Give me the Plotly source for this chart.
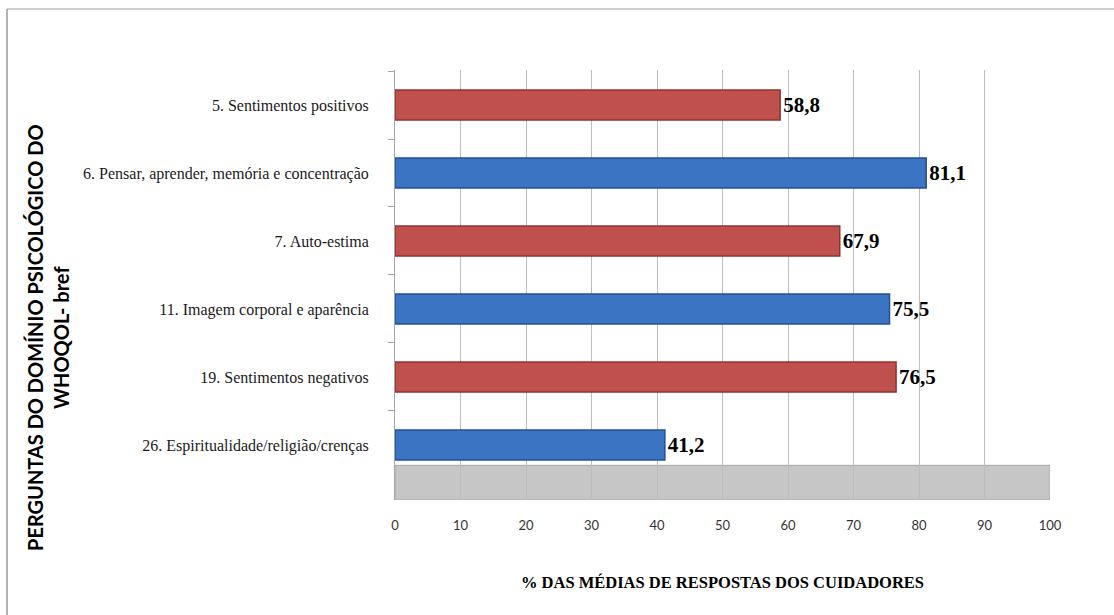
import plotly.graph_objects as go

categories = [
    "5. Sentimentos positivos",
    "6. Pensar, aprender, memória e concentração",
    "7. Auto-estima",
    "11. Imagem corporal e aparência",
    "19. Sentimentos negativos",
    "26. Espiritualidade/religião/crenças",
]
values = [58.8, 81.1, 67.9, 75.5, 76.5, 41.2]
bar_colors = ["#C0504D", "#3B74C2", "#C0504D", "#3B74C2", "#C0504D", "#3B74C2"]
edge_colors = ["#8E3331", "#23528F", "#8E3331", "#23528F", "#8E3331", "#23528F"]
x_ticks = [0, 10, 20, 30, 40, 50, 60, 70, 80, 90, 100]

positions = list(range(len(categories)))
boundaries = [p + 0.5 for p in positions[:-1]] + [-0.5]

W, H = 1114, 615
L, R, T, B = 395, 64, 70, 115

fig = go.Figure()
fig.add_trace(go.Bar(
    x=values,
    y=positions,
    orientation="h",
    width=0.44,
    marker=dict(color=bar_colors, line=dict(color=edge_colors, width=1.5)),
    texttemplate="<b>%{x:.1f}</b>",
    textposition="outside",
    cliponaxis=False,
    textfont=dict(family="Liberation Serif", size=21, color="#000000"),
    hoverinfo="skip",
))

fig.update_layout(
    width=W, height=H,
    margin=dict(l=L, r=R, t=T, b=B),
    paper_bgcolor="white",
    plot_bgcolor="white",
    separators=",.",
    showlegend=False,
    xaxis=dict(
        range=[0, 100],
        tickvals=x_ticks,
        ticktext=[str(v) for v in x_ticks],
        showgrid=True,
        gridcolor="#BDBDBD",
        gridwidth=1,
        zeroline=False,
        showline=False,
        tickfont=dict(family="Lato", size=13, color="#333333"),
        ticks="",
        ticklabelstandoff=16,
        title=dict(
            text="<b>% DAS MÉDIAS DE RESPOSTAS DOS CUIDADORES</b>",
            font=dict(family="Liberation Serif", size=16.5, color="#000000"),
            standoff=44,
        ),
    ),
    yaxis=dict(
        range=[5.81, -0.515],
        tickvals=positions,
        ticktext=categories,
        showgrid=False,
        zeroline=False,
        showline=True,
        linecolor="#A6A6A6",
        ticks="",
        minor=dict(tickvals=boundaries, ticks="outside", ticklen=6,
                   tickcolor="#A6A6A6", showgrid=False),
        ticklabelstandoff=22,
        tickfont=dict(family="Liberation Serif", size=16, color="#1A1A1A"),
    ),
)

# grey floor band below the bars
fig.add_shape(type="rect", xref="x", yref="y", x0=0, x1=100, y0=5.3, y1=5.81,
              fillcolor="#C6C6C6", line=dict(color="#A6A6A6", width=1), layer="below")

# frame (top and left edges)
fig.add_shape(type="line", xref="paper", yref="paper",
              x0=(7 - L) / (W - L - R), x1=(W - L) / (W - L - R),
              y0=(H - B - 9) / (H - T - B), y1=(H - B - 9) / (H - T - B),
              line=dict(color="#BFBFBF", width=1.5))
fig.add_shape(type="line", xref="paper", yref="paper",
              x0=(7 - L) / (W - L - R), x1=(7 - L) / (W - L - R),
              y0=(H - B - 9) / (H - T - B), y1=(H - B - H) / (H - T - B),
              line=dict(color="#9A9A9A", width=1.5))

# y-axis title (two lines, rotated)
fig.add_annotation(
    text="<b>PERGUNTAS DO DOMÍNIO PSICOLÓGICO DO<br>WHOQOL- bref</b>",
    xref="paper", yref="paper",
    x=(48 - L) / (W - L - R), y=(H - B - 338) / (H - T - B),
    xanchor="center", yanchor="middle",
    textangle=-90, showarrow=False,
    font=dict(family="Lato", size=20, color="#000000"),
)

fig.write_html("out.html")
